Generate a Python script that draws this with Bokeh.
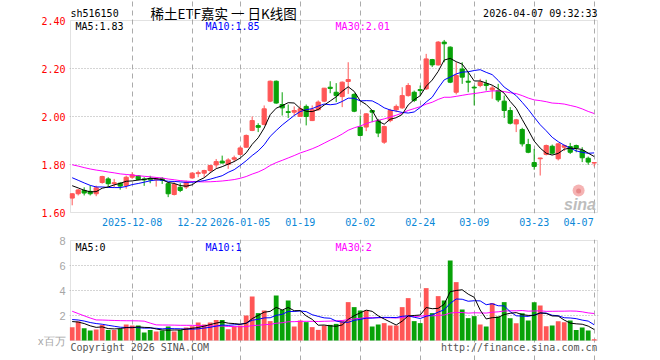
import numpy as np
import pandas as pd
from bokeh.plotting import figure
from bokeh.layouts import column
from bokeh.models import Range1d, FixedTicker, Label, PrintfTickFormatter, BoxAnnotation
from bokeh.embed import file_html
from bokeh.resources import INLINE

stock_code = "sh516150"
title_text = "稀土ETF嘉实 一 日K线图"
timestamp = "2026-04-07 09:32:33"

tick_index = [10, 20, 28, 38, 48, 58, 67, 77, 87]
tick_labels = ["2025-12-08", "12-22", "2026-01-05", "01-19", "02-02",
               "02-24", "03-09", "03-23", "04-07"]
price_ticks = [1.60, 1.80, 2.00, 2.20, 2.40]
volume_ticks = [0, 2, 4, 6, 8]
volume_unit = "x百万"

open_ = [1.660, 1.678, 1.692, 1.688, 1.678, 1.725, 1.740, 1.720, 1.722, 1.713,
         1.747, 1.753, 1.740, 1.742, 1.736, 1.742, 1.720, 1.675, 1.705, 1.706,
         1.744, 1.762, 1.764, 1.775, 1.798, 1.814, 1.800, 1.822, 1.842, 1.872,
         1.942, 1.962, 1.967, 2.064, 2.147, 2.050, 2.020, 2.018, 2.000, 2.042,
         1.983, 2.028, 2.064, 2.122, 2.101, 2.083, 2.146, 2.092, 1.956, 1.956,
         2.025, 1.983, 1.893, 1.983, 2.028, 2.036, 2.087, 2.101, 2.112, 2.115,
         2.237, 2.215, 2.310, 2.289, 2.101, 2.198, 2.147, 2.122, 2.129, 2.136,
         2.111, 2.108, 2.064, 2.025, 1.969, 1.946, 1.883, 1.808, 1.824, 1.842,
         1.876, 1.824, 1.872, 1.875, 1.879, 1.858, 1.826, 1.806]
high = [1.680, 1.698, 1.705, 1.712, 1.712, 1.753, 1.747, 1.740, 1.726, 1.754,
        1.768, 1.756, 1.747, 1.753, 1.747, 1.747, 1.726, 1.726, 1.722, 1.733,
        1.768, 1.775, 1.778, 1.798, 1.823, 1.837, 1.826, 1.837, 1.875, 1.925,
        2.000, 1.972, 2.046, 2.150, 2.150, 2.101, 2.050, 2.042, 2.046, 2.050,
        2.046, 2.067, 2.119, 2.147, 2.139, 2.146, 2.226, 2.097, 2.004, 2.014,
        2.025, 1.990, 1.962, 2.032, 2.050, 2.122, 2.139, 2.108, 2.129, 2.261,
        2.240, 2.314, 2.319, 2.292, 2.226, 2.226, 2.185, 2.129, 2.157, 2.153,
        2.129, 2.136, 2.087, 2.039, 1.990, 1.953, 1.907, 1.865, 1.828, 1.883,
        1.883, 1.889, 1.883, 1.890, 1.883, 1.872, 1.833, 1.810]
low = [1.630, 1.671, 1.671, 1.671, 1.668, 1.720, 1.706, 1.706, 1.695, 1.699,
       1.740, 1.734, 1.711, 1.722, 1.708, 1.719, 1.664, 1.671, 1.685, 1.698,
       1.740, 1.747, 1.747, 1.764, 1.786, 1.805, 1.782, 1.810, 1.838, 1.869,
       1.939, 1.935, 1.963, 2.060, 2.053, 2.004, 1.994, 2.004, 2.000, 1.963,
       1.981, 2.025, 2.060, 2.097, 2.060, 2.039, 2.094, 2.018, 1.917, 1.939,
       1.976, 1.914, 1.886, 1.976, 2.018, 2.032, 2.083, 2.060, 2.087, 2.111,
       2.206, 2.212, 2.226, 2.139, 2.092, 2.136, 2.101, 2.046, 2.122, 2.108,
       2.074, 2.060, 1.994, 1.967, 1.935, 1.875, 1.847, 1.778, 1.754, 1.838,
       1.842, 1.817, 1.856, 1.844, 1.851, 1.810, 1.799, 1.792]
close = [1.678, 1.694, 1.681, 1.678, 1.703, 1.750, 1.720, 1.724, 1.710, 1.747,
         1.757, 1.738, 1.736, 1.736, 1.740, 1.735, 1.678, 1.717, 1.692, 1.726,
         1.764, 1.766, 1.775, 1.796, 1.812, 1.806, 1.819, 1.828, 1.869, 1.921,
         1.983, 1.955, 2.032, 2.147, 2.056, 2.036, 2.017, 2.025, 2.032, 2.000,
         2.028, 2.060, 2.118, 2.117, 2.087, 2.143, 2.154, 2.022, 1.921, 2.011,
         2.018, 1.931, 1.958, 2.025, 2.042, 2.087, 2.129, 2.067, 2.108, 2.240,
         2.215, 2.310, 2.303, 2.143, 2.171, 2.164, 2.143, 2.119, 2.143, 2.129,
         2.119, 2.069, 2.025, 1.972, 1.986, 1.886, 1.851, 1.792, 1.827, 1.879,
         1.847, 1.886, 1.879, 1.851, 1.869, 1.828, 1.810, 1.808]
volume = [1.07, 1.52, 0.99, 0.80, 0.88, 1.25, 0.85, 0.85, 0.93, 1.28,
          1.20, 1.20, 0.64, 0.85, 0.72, 0.80, 1.12, 0.72, 0.85, 1.04,
          1.15, 1.44, 1.28, 1.44, 1.65, 1.65, 0.91, 1.12, 1.20, 2.00,
          3.52, 2.19, 2.40, 1.55, 3.60, 2.45, 3.20, 1.12, 1.60, 1.47,
          1.07, 0.85, 1.20, 1.25, 1.33, 1.60, 3.07, 2.67, 2.40, 2.40,
          1.12, 1.28, 1.39, 1.20, 1.20, 2.67, 3.39, 1.55, 1.39, 4.19,
          2.19, 3.55, 3.20, 6.40, 4.67, 2.48, 1.79, 1.95, 1.28, 1.12,
          2.99, 1.92, 3.07, 1.79, 1.39, 2.19, 1.60, 3.07, 2.80, 1.15,
          1.20, 1.55, 1.47, 1.60, 0.85, 1.04, 0.80, 0.11]

# sessions before the visible window (estimated from where the MA lines start)
prior_close = [1.86, 1.87, 1.85, 1.84, 1.86, 1.85, 1.83, 1.84, 1.82, 1.83,
               1.82, 1.81, 1.80, 1.82, 1.81, 1.80, 1.81, 1.80, 1.79, 1.81,
               1.80, 1.79, 1.78, 1.77, 1.75, 1.74, 1.73, 1.71, 1.70]
prior_volume = [7.0, 6.5, 6.0, 5.5, 1.5, 1.4, 1.3, 1.4, 1.5, 1.3,
                1.4, 1.3, 5.5, 5.0, 1.2, 1.1, 1.0, 1.2, 1.1, 1.2,
                1.9, 1.8, 2.0, 1.7, 1.8, 1.7, 1.6, 1.7, 1.5]

RED = "#ff5656"
GREEN = "#08a208"
BLUE_TXT = "#0a88d8"
GRID = "#ababab"
BOX = "#a0a0a0"
MONO = "DejaVu Sans Mono"

n = len(close)
x = np.arange(n)
o = np.array(open_)
c = np.array(close)
up = c >= o
colors = np.where(up, RED, GREEN).tolist()


def ma(prior, vals, k):
    s = pd.Series(list(prior) + list(vals)).rolling(k).mean().to_numpy()
    return s[-len(vals):]


ma5, ma10, ma30 = (ma(prior_close, close, k) for k in (5, 10, 30))
vma5, vma10, vma30 = (ma(prior_volume, volume, k) for k in (5, 10, 30))

# panel geometry: 6 px per session, 240 px per price unit, 12.5 px per volume unit
X0, X1 = -0.28, 87.55
PX = 1 / 6.0
xr = Range1d(X0 - PX, X1 + PX)
P0, P1 = price_ticks[0], price_ticks[-1]
V0, V1 = volume_ticks[0], volume_ticks[-1]

# the last date label is drawn ending at its grid line so it stays inside the box
label_pos = [float(t) for t in tick_index]
label_pos[-1] = tick_index[-1] - 2.6


def style_axis(ax, color, font, size, standoff):
    ax.axis_line_color = None
    ax.major_tick_line_color = None
    ax.minor_tick_line_color = None
    ax.major_tick_out = 0
    ax.major_tick_in = 0
    ax.minor_tick_out = 0
    ax.minor_tick_in = 0
    ax.major_label_text_font = font
    ax.major_label_text_font_size = size
    ax.major_label_text_color = color
    ax.major_label_standoff = standoff


def lab(fig, xx, yy, text, color, font=MONO, size="10px", align="left",
        baseline="middle", style="normal"):
    fig.add_layout(Label(x=xx, y=yy, text=text, text_color=color, text_font=font,
                         text_font_size=size, text_align=align, text_baseline=baseline,
                         text_font_style=style))


# ---------- price panel ----------
p = figure(frame_width=529, frame_height=213, x_range=xr,
           y_range=Range1d(P0 - 1 / 240, P1 + 20 / 240),
           min_border_left=69, min_border_right=62, min_border_top=0, min_border_bottom=19,
           output_backend="svg", toolbar_location=None)
p.outline_line_color = None
p.add_layout(BoxAnnotation(left=X0, right=X1, bottom=P0, top=P1, fill_color=None,
                           line_color=BOX, line_width=1, level="underlay"))

p.xaxis.ticker = FixedTicker(ticks=label_pos)
p.xaxis.major_label_overrides = {t: l for t, l in zip(label_pos, tick_labels)}
p.yaxis.ticker = FixedTicker(ticks=price_ticks)
p.yaxis.formatter = PrintfTickFormatter(format="%.2f")
style_axis(p.xaxis[0], BLUE_TXT, MONO, "10px", 4)
style_axis(p.yaxis[0], "#ff0000", MONO, "10px", 4)

p.xgrid.ticker = FixedTicker(ticks=tick_index)
p.xgrid.bounds = (P0, P1)
p.xgrid.grid_line_color = GRID
p.xgrid.grid_line_dash = "5 4"
p.ygrid.ticker = FixedTicker(ticks=price_ticks[1:-1])
p.ygrid.bounds = (X0, X1)
p.ygrid.grid_line_color = GRID
p.ygrid.grid_line_dash = "1 2"

# sina logo
p.scatter(x=[84.4], y=[1.692], size=12, marker="circle", fill_color="#f5b3b3",
          line_color=None)
p.scatter(x=[84.4], y=[1.690], size=5, marker="circle", fill_color="#e88a8a",
          line_color=None)
lab(p, 87.3, 1.634, "sina", "#bdbdbd", font="Liberation Sans", size="16px",
    align="right", baseline="alphabetic", style="bold italic")

p.segment(x0=x, y0=low, x1=x, y1=high, color=colors, line_width=1)
p.vbar(x=x, width=0.7, top=np.maximum(o, c), bottom=np.minimum(o, c),
       fill_color=colors, line_color=colors, line_width=1)
p.line(x, ma30, color="#ff00ff", line_width=1)
p.line(x, ma10, color="#0000ff", line_width=1)
p.line(x, ma5, color="black", line_width=1)

lab(p, 0.55, 2.373, f"MA5:{ma5[-1]:.2f}", "black")
lab(p, 22.2, 2.373, f"MA10:{ma10[-1]:.2f}", "#0000ff")
lab(p, 43.9, 2.373, f"MA30:{ma30[-1]:.2f}", "#ff00ff")
lab(p, X0, 2.431, stock_code, "black")
lab(p, 13.05, 2.431, title_text, "black", font="Noto Sans CJK SC", size="13.5px")
lab(p, X1, 2.431, timestamp, "black", align="right")

# ---------- volume panel ----------
v = figure(frame_width=529, frame_height=121, x_range=xr,
           y_range=Range1d(V0 - 20 / 12.5, V1 + 1 / 12.5),
           min_border_left=69, min_border_right=62, min_border_top=7, min_border_bottom=0,
           output_backend="svg", toolbar_location=None)
v.outline_line_color = None
v.add_layout(BoxAnnotation(left=X0, right=X1, bottom=V0, top=V1, fill_color=None,
                           line_color=BOX, line_width=1, level="underlay"))
v.xaxis.visible = False
v.yaxis.ticker = FixedTicker(ticks=volume_ticks)
v.yaxis.major_label_overrides = {0: volume_unit}
style_axis(v.yaxis[0], "#a6a6a6", "Liberation Sans", "11px", 4)

v.xgrid.ticker = FixedTicker(ticks=tick_index)
v.xgrid.bounds = (V0, V1)
v.xgrid.grid_line_color = GRID
v.xgrid.grid_line_dash = "5 4"
v.ygrid.ticker = FixedTicker(ticks=volume_ticks[1:-1])
v.ygrid.bounds = (X0, X1)
v.ygrid.grid_line_color = GRID
v.ygrid.grid_line_dash = "1 2"

v.vbar(x=x, width=0.8, top=volume, bottom=0, fill_color=colors, line_color=None)
v.line(x, vma30, color="#ff00ff", line_width=1)
v.line(x, vma10, color="#0000ff", line_width=1)
v.line(x, vma5, color="black", line_width=1)

lab(v, 0.55, 7.48, f"MA5:{int(vma5[-1])}", "black")
lab(v, 22.2, 7.48, f"MA10:{int(vma10[-1])}", "#0000ff")
lab(v, 43.9, 7.48, f"MA30:{int(vma30[-1])}", "#ff00ff")
lab(v, X0, -0.52, "Copyright 2026 SINA.COM", "#555555")
lab(v, X1, -0.52, "http://finance.sina.com.cn", "#555555", align="right")

layout = column(p, v, spacing=0)
open("out.html", "w").write(file_html(layout, INLINE))
